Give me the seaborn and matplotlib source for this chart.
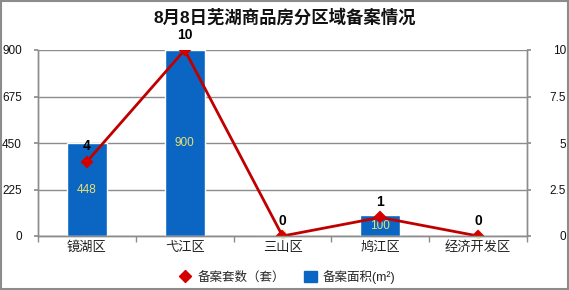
import matplotlib
matplotlib.use("Agg")
import matplotlib.pyplot as plt
import seaborn as sns
import pandas as pd
import numpy as np
from matplotlib.lines import Line2D
from matplotlib.patches import Patch, Rectangle

sns.set_theme(style="white")
plt.rcParams['font.family'] = ['Liberation Sans', 'Noto Sans CJK SC', 'DejaVu Sans']

title = "8月8日芜湖商品房分区域备案情况"
districts = ["镜湖区", "弋江区", "三山区", "鸠江区", "经济开发区"]
area = [448, 900, 0, 100, 0]
units = [4, 10, 0, 1, 0]
left_ticks = [0, 225, 450, 675, 900]
right_ticks = [0, 2.5, 5, 7.5, 10]
right_tick_labels = ["0", "2.5", "5", "7.5", "10"]
legend_units = "备案套数（套）"
legend_area = "备案面积(m²)"

bar_color = "#0A66C2"
line_color = "#C00000"
marker_color = "#D40000"
label_yellow = "#E8E070"
grid_color = "#8C8C8C"

df = pd.DataFrame({"district": districts, "area": area, "units": units})

fig = plt.figure(figsize=(5.69, 2.90), dpi=100)
ax = fig.add_axes([38/569, 1-236/290, (527-38)/569, (236-50)/290])
ax2 = ax.twinx()

sns.barplot(data=df, x="district", y="area", ax=ax, color=bar_color,
            width=0.41, saturation=1, order=districts)
ax.set_ylim(0, 900)
ax.set_xlim(-0.5, len(districts) - 0.5)
ax.set_yticks(left_ticks)
ax.set_yticklabels([str(t) for t in left_ticks])
ax.yaxis.grid(True, color=grid_color, linewidth=1)
ax.set_axisbelow(True)
ax.set_xlabel("")
ax.set_ylabel("")

sns.pointplot(data=df, x="district", y="units", ax=ax2, color=line_color,
              markers="D", linestyles="-", order=districts, markersize=5.5,
              linewidth=2)
ax2.set_ylim(0, 10)
ax2.set_xlim(-0.5, len(districts) - 0.5)
ax2.set_yticks(right_ticks)
ax2.set_yticklabels(right_tick_labels)
ax2.set_ylabel("")
ax2.set_xlabel("")
for ln in ax2.lines:
    ln.set_markerfacecolor(marker_color)
    ln.set_markeredgecolor(marker_color)

# bar labels
for i, v in enumerate(area):
    ax.text(i, v / 2, str(v), ha="center", va="center", color=label_yellow,
            fontsize=8.5, zorder=5)
# line labels
for i, v in enumerate(units):
    ax2.annotate(str(v), (i, v), xytext=(0, 11), textcoords="offset points",
                 ha="center", va="center", fontsize=10, fontweight="bold",
                 color="black", zorder=6)

for a in (ax, ax2):
    a.spines["top"].set_visible(False)
    for s in ["left", "right", "bottom"]:
        a.spines[s].set_color(grid_color)
        a.spines[s].set_linewidth(1)

ax.tick_params(axis="y", which="both", left=True, length=3, color=grid_color,
               labelsize=8.5, pad=8.5, labelcolor="#111111")
ax2.tick_params(axis="y", right=True, length=3, color=grid_color,
                labelsize=8.5, pad=25, labelcolor="#111111")
for lab in ax2.get_yticklabels():
    lab.set_horizontalalignment("right")

ax.set_xticks(range(len(districts)))
ax.set_xticklabels(districts)
ax.set_xticks(np.arange(-0.5, len(districts)), minor=True)
ax.tick_params(axis="x", which="major", length=0, labelsize=9.5, pad=4,
               labelcolor="#222222")
ax.tick_params(axis="x", which="minor", bottom=True, length=4, color=grid_color)
ax2.tick_params(axis="x", bottom=False, top=False)

fig.text(0.5, 1 - 17/290, title, ha="center", va="center", fontsize=12.5,
         fontweight="bold", color="#111111")

handles = [
    Line2D([0], [0], marker="D", color="none", markerfacecolor=marker_color,
           markeredgecolor=marker_color, markersize=6, label=legend_units),
    Patch(facecolor=bar_color, edgecolor=bar_color, label=legend_area),
]
fig.legend(handles=handles, loc="center", bbox_to_anchor=(0.505, 1 - 277/290),
           ncol=2, frameon=False, fontsize=9, handlelength=1.0,
           handleheight=1.0, handletextpad=0.5, columnspacing=1.5)

fig.add_artist(Rectangle((0.002, 0.004), 0.996, 0.992, transform=fig.transFigure,
                         fill=False, edgecolor="#8C8C8C", linewidth=1.5))

fig.savefig("out.png", dpi=100)
